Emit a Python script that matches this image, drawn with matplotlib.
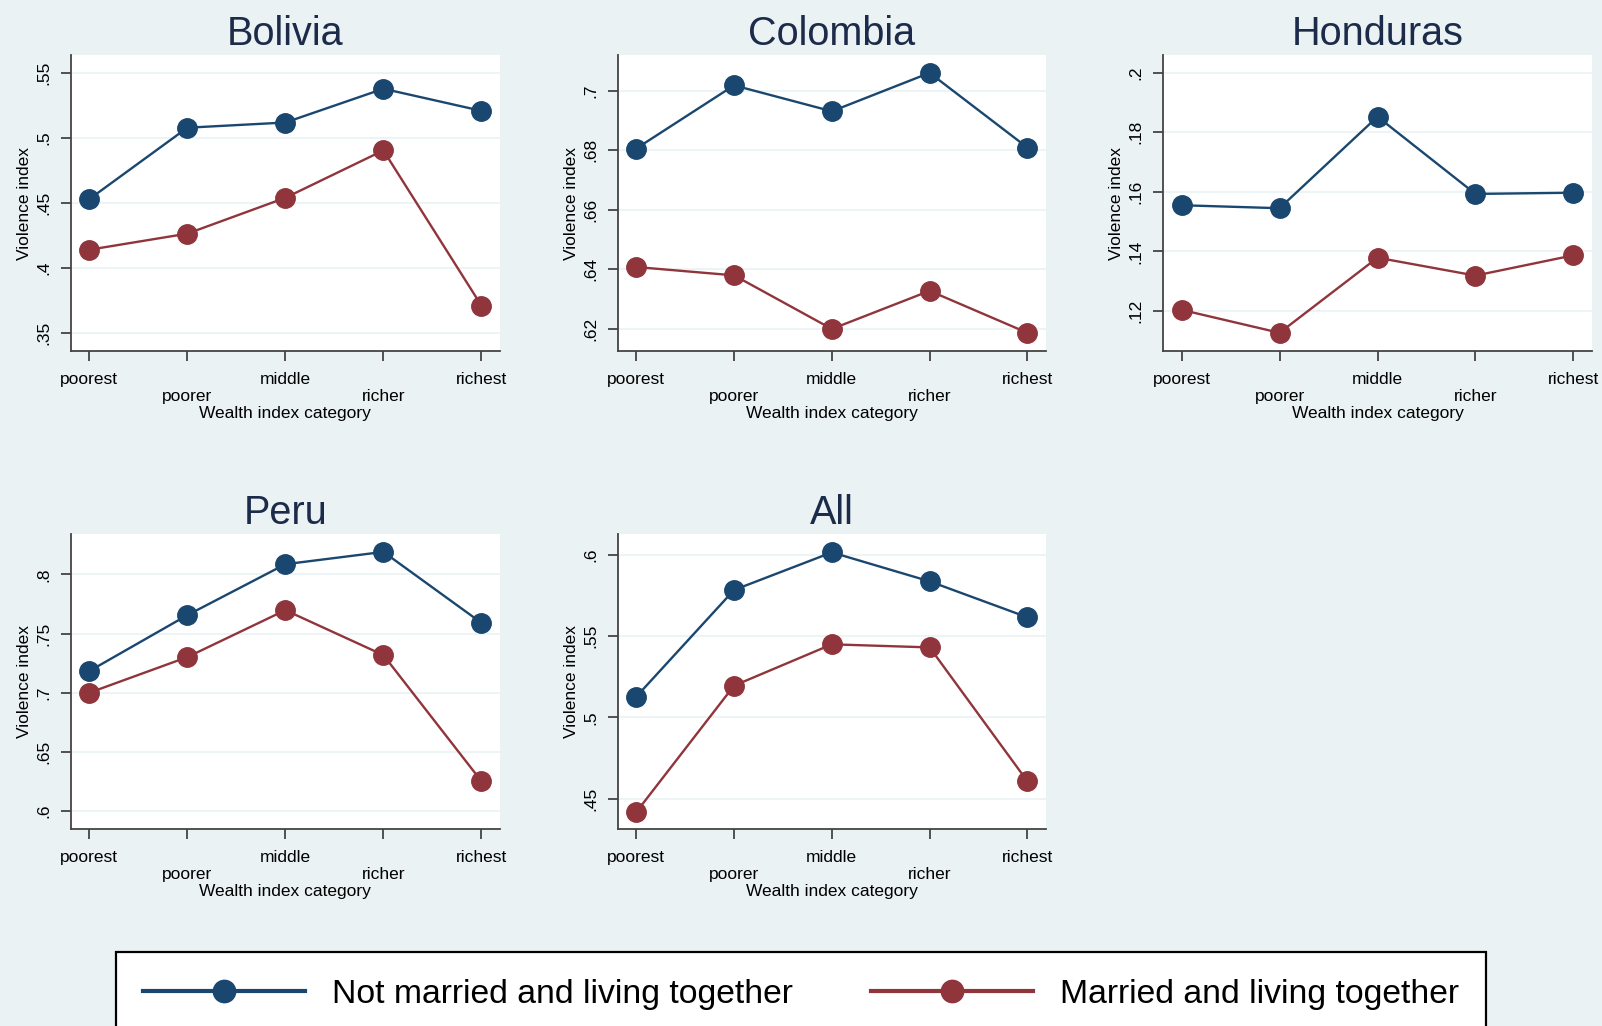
import numpy as np
import matplotlib.pyplot as plt
from matplotlib.ticker import FuncFormatter

plt.rcParams['font.family'] = ['Liberation Sans', 'DejaVu Sans']

# wealth categories (x axis)
categories = ['poorest', 'poorer', 'middle', 'richer', 'richest']
tick_labels = ['poorest', '\npoorer', 'middle', '\nricher', 'richest']

panels = ['Bolivia', 'Colombia', 'Honduras', 'Peru', 'All']

# Not married and living together
not_married = {
    'Bolivia':  [0.453, 0.508, 0.512, 0.538, 0.521],
    'Colombia': [0.6806, 0.7018, 0.6931, 0.7060, 0.6809],
    'Honduras': [0.1555, 0.1545, 0.1852, 0.1593, 0.1597],
    'Peru':     [0.7183, 0.7655, 0.8085, 0.8189, 0.7590],
    'All':      [0.5127, 0.5783, 0.6014, 0.5836, 0.5615],
}
# Married and living together
married = {
    'Bolivia':  [0.414, 0.4264, 0.454, 0.4905, 0.371],
    'Colombia': [0.6408, 0.6380, 0.6200, 0.6328, 0.6187],
    'Honduras': [0.1204, 0.1127, 0.1379, 0.1319, 0.1387],
    'Peru':     [0.7000, 0.7301, 0.7697, 0.7318, 0.6254],
    'All':      [0.4418, 0.5195, 0.5449, 0.5430, 0.4607],
}

yticks = {
    'Bolivia':  [0.35, 0.4, 0.45, 0.5, 0.55],
    'Colombia': [0.62, 0.64, 0.66, 0.68, 0.7],
    'Honduras': [0.12, 0.14, 0.16, 0.18, 0.2],
    'Peru':     [0.6, 0.65, 0.7, 0.75, 0.8],
    'All':      [0.45, 0.5, 0.55, 0.6],
}
ylims = {
    'Bolivia':  (0.336, 0.564),
    'Colombia': (0.6126, 0.712),
    'Honduras': (0.1066, 0.2059),
    'Peru':     (0.585, 0.834),
    'All':      (0.4314, 0.6127),
}

BG = '#EAF2F3'
NAVY = '#1A476F'
MAROON = '#90353B'
AXC = '#444444'

W, H = 1602, 1026
fig = plt.figure(figsize=(W / 100, H / 100), dpi=100, facecolor=BG)

# axes boxes in pixels: (left, right, top, bottom)
cols = [(70.7, 500), (617.7, 1046), (1163, 1592)]
rows = [(55, 351), (534, 829)]
boxes = [cols[0] + rows[0], cols[1] + rows[0], cols[2] + rows[0],
         cols[0] + rows[1], cols[1] + rows[1]]

fmt = FuncFormatter(lambda v, p: ('%g' % v).replace('0.', '.', 1))
x = np.arange(1, len(categories) + 1)

for name, (l, r, t, b) in zip(panels, boxes):
    ax = fig.add_axes([l / W, 1 - b / H, (r - l) / W, (b - t) / H])
    ax.set_facecolor('white')
    ax.plot(x, not_married[name], color=NAVY, lw=1.7, marker='o', ms=14,
            label='Not married and living together')
    ax.plot(x, married[name], color=MAROON, lw=1.7, marker='o', ms=14,
            label='Married and living together')
    ax.set_xlim(0.81, 5.19)
    ax.set_ylim(*ylims[name])
    ax.set_yticks(yticks[name])
    ax.yaxis.set_major_formatter(fmt)
    ax.set_xticks(x)
    ax.set_xticklabels(tick_labels, linespacing=1.15)
    ax.grid(axis='y', color=BG, lw=1.2)
    ax.set_axisbelow(True)
    for s in ['top', 'right']:
        ax.spines[s].set_visible(False)
    for s in ['left', 'bottom']:
        ax.spines[s].set_color(AXC)
        ax.spines[s].set_linewidth(1.3)
    ax.tick_params(axis='both', length=7, width=1.3, color=AXC,
                   labelsize=12.5, labelcolor='black')
    ax.tick_params(axis='x', pad=8)
    ax.tick_params(axis='y', pad=7, labelrotation=90)
    for lab in ax.get_yticklabels():
        lab.set_va('center')
    ax.set_title(name, fontsize=28.5, color='#1c2b4a', pad=7.5)
    ax.set_ylabel('Violence index', fontsize=12.5)
    ax.set_xlabel('Wealth index category', fontsize=12.5)
    ax.yaxis.set_label_coords(-0.09, 0.5)
    ax.xaxis.set_label_coords(0.5, -0.186)
    ax.xaxis.label.set_va('top')

handles, labels = ax.get_legend_handles_labels()
leg = fig.legend(handles, labels, loc='upper center', ncol=2,
                 bbox_to_anchor=(801 / W, 1 - 952 / H), fontsize=24.3,
                 frameon=True, fancybox=False, edgecolor='black',
                 facecolor='white', framealpha=1, borderpad=0.8,
                 borderaxespad=0, handlelength=4.8, handletextpad=0.8,
                 columnspacing=2.3, markerscale=1.15)
leg.get_frame().set_linewidth(1.6)
for ln in leg.get_lines():
    ln.set_linewidth(3)

fig.savefig('out.png', dpi=100, facecolor=BG)
